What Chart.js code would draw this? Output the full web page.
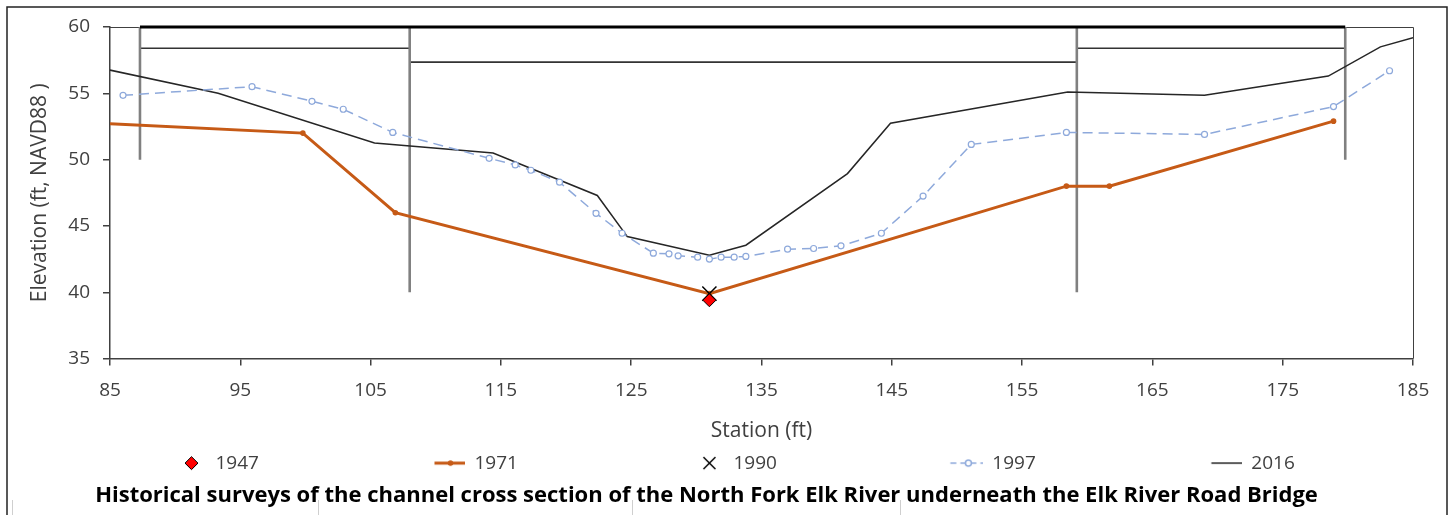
<!DOCTYPE html>
<html>
<head>
<meta charset="utf-8">
<script src="https://cdn.jsdelivr.net/npm/chart.js@4.4.0/dist/chart.umd.min.js"></script>
<style>
  html, body { margin: 0; padding: 0; background: #fff; }
</style>
</head>
<body>
<canvas id="xsChart" width="1450" height="515"></canvas>
<script>
// survey data, station (ft) / elevation (ft NAVD88)
const sta1947 = [131.0];
const elev1947 = [39.4];

const sta1971 = [85, 99.8, 106.9, 131.0, 158.4, 161.7, 178.9];
const elev1971 = [52.7, 52.0, 46.0, 39.9, 48.0, 48.0, 52.9];

const sta1990 = [131.0];
const elev1990 = [39.9];

const sta1997 = [86.0, 95.9, 100.5, 102.9, 106.7, 114.1, 116.1, 117.3, 119.5, 122.3,
  124.3, 126.7, 127.9, 128.6, 130.1, 131.0, 131.9, 132.9, 133.8, 137.0,
  139.0, 141.1, 144.2, 147.4, 151.1, 158.4, 169.0, 178.9, 183.2];
const elev1997 = [54.85, 55.5, 54.4, 53.8, 52.05, 50.1, 49.6, 49.2, 48.3, 45.95,
  44.45, 42.95, 42.9, 42.75, 42.65, 42.5, 42.65, 42.65, 42.7, 43.25,
  43.3, 43.5, 44.45, 47.25, 51.15, 52.05, 51.9, 54.0, 56.7];

const sta2016 = [85, 93.3, 105.3, 114.4, 122.4, 124.7, 131.0, 133.8, 141.6, 144.9,
  158.5, 169.0, 178.5, 182.5, 185];
const elev2016 = [56.75, 55.0, 51.25, 50.5, 47.3, 44.2, 42.8, 43.55, 48.95, 52.75,
  55.1, 54.85, 56.3, 58.5, 59.2];

// bridge outline
const pierStations = [87.3, 108.0, 159.2, 179.8];
const pierBottoms = [50, 40, 40, 50];
const deckElev = 60;
const lowChordElev = [58.4, 57.35, 58.4];

const xTicks = [85, 95, 105, 115, 125, 135, 145, 155, 165, 175, 185];
const yTicks = [35, 40, 45, 50, 55, 60];

const chartTitle = 'Historical surveys of the channel cross section of the North Fork Elk River underneath the Elk River Road Bridge';

const ORANGE = '#C65A16';
const BLUE = '#8EA9DB';
const DARK = '#262626';
const TXT = '#404040';
const FONT = "'Open Sans', sans-serif";

const toPts = (xs, ys) => xs.map((x, i) => ({x: x, y: ys[i]}));

let pierPts = [];
pierStations.forEach((s, i) => {
  pierPts.push({x: s, y: deckElev}, {x: s, y: pierBottoms[i]}, {x: s, y: null});
});
let chordPts = [];
lowChordElev.forEach((e, i) => {
  chordPts.push({x: pierStations[i], y: e}, {x: pierStations[i + 1], y: e}, {x: pierStations[i + 1], y: null});
});
const deckPts = [{x: pierStations[0], y: deckElev}, {x: pierStations[pierStations.length - 1], y: deckElev}];

// legend symbols (drawn at the right end of a wide box)
const BOXW = 206;
function makeIcon(draw) {
  const c = document.createElement('canvas');
  c.width = BOXW; c.height = 20;
  const g = c.getContext('2d');
  draw(g, BOXW - 14.5, 10);
  return c;
}
const legendIcons = {
  '1947': makeIcon((g, x, y) => {
    g.beginPath(); g.moveTo(x, y - 6.5); g.lineTo(x + 6.5, y); g.lineTo(x, y + 6.5); g.lineTo(x - 6.5, y); g.closePath();
    g.fillStyle = '#FF0000'; g.fill(); g.lineWidth = 1; g.strokeStyle = '#000'; g.stroke();
  }),
  '1971': makeIcon((g, x, y) => {
    g.strokeStyle = ORANGE; g.lineWidth = 3;
    g.beginPath(); g.moveTo(x - 16, y); g.lineTo(x + 16, y); g.stroke();
    g.fillStyle = ORANGE; g.beginPath(); g.arc(x, y, 2.8, 0, Math.PI * 2); g.fill();
  }),
  '1990': makeIcon((g, x, y) => {
    g.strokeStyle = '#000'; g.lineWidth = 1.5;
    g.beginPath(); g.moveTo(x - 6, y - 6); g.lineTo(x + 6, y + 6); g.moveTo(x + 6, y - 6); g.lineTo(x - 6, y + 6); g.stroke();
  }),
  '1997': makeIcon((g, x, y) => {
    g.strokeStyle = BLUE; g.lineWidth = 1.5; g.setLineDash([6, 4]);
    g.beginPath(); g.moveTo(x - 18, y); g.lineTo(x + 18, y); g.stroke();
    g.setLineDash([]); g.fillStyle = '#fff';
    g.beginPath(); g.arc(x, y, 3, 0, Math.PI * 2); g.fill(); g.stroke();
  }),
  '2016': makeIcon((g, x, y) => {
    g.strokeStyle = DARK; g.lineWidth = 1.5;
    g.beginPath(); g.moveTo(x - 16, y); g.lineTo(x + 16, y); g.stroke();
  })
};

const pagePlugin = {
  id: 'page',
  beforeDraw(chart) {
    const ctx = chart.ctx;
    ctx.save();
    ctx.fillStyle = '#fff';
    ctx.fillRect(0, 0, chart.width, chart.height);
    ctx.restore();
  },
  beforeDatasetsDraw(chart) {
    const {ctx, chartArea: a} = chart;
    ctx.save();
    ctx.strokeStyle = TXT;
    ctx.lineWidth = 1;
    ctx.beginPath();
    ctx.moveTo(a.left, a.top + 0.5);
    ctx.lineTo(a.right + 0.5, a.top + 0.5);
    ctx.lineTo(a.right + 0.5, a.bottom);
    ctx.stroke();
    ctx.restore();
  },
  afterDraw(chart) {
    const ctx = chart.ctx;
    ctx.save();
    ctx.strokeStyle = '#222';
    ctx.lineWidth = 1.5;
    ctx.beginPath();
    ctx.moveTo(7, chart.height + 2);
    ctx.lineTo(7, 7);
    ctx.lineTo(1447, 7);
    ctx.lineTo(1447, chart.height + 2);
    ctx.stroke();
    ctx.strokeStyle = '#cfcfcf';
    ctx.lineWidth = 1;
    [12.5, 318.5, 632.5, 900.5].forEach(x => {
      ctx.beginPath(); ctx.moveTo(x, 500); ctx.lineTo(x, chart.height); ctx.stroke();
    });
    ctx.restore();
  }
};

const ctx = document.getElementById('xsChart');
new Chart(ctx, {
  type: 'line',
  data: {
    datasets: [
      { label: '1947', data: toPts(sta1947, elev1947), showLine: false, order: 0,
        pointStyle: 'rectRot', pointRadius: 6.5, backgroundColor: '#FF0000', borderColor: '#000', pointBorderWidth: 1 },
      { label: '1971', data: toPts(sta1971, elev1971), order: 2,
        borderColor: ORANGE, backgroundColor: ORANGE, borderWidth: 3,
        pointRadius: sta1971.map((s, i) => i === 0 ? 0 : 2.8), pointBorderWidth: 0 },
      { label: '1990', data: toPts(sta1990, elev1990), showLine: false, order: 1,
        pointStyle: 'crossRot', pointRadius: 10, borderColor: '#000', pointBorderWidth: 1.5 },
      { label: '1997', data: toPts(sta1997, elev1997), order: 3,
        borderColor: BLUE, backgroundColor: '#fff', borderWidth: 1.5, borderDash: [10, 6],
        pointRadius: 3, pointBorderWidth: 1.2 },
      { label: '2016', data: toPts(sta2016, elev2016), order: 4,
        borderColor: DARK, borderWidth: 1.5, pointRadius: 0 },
      { label: 'piers', data: pierPts, order: 5, clip: false,
        borderColor: '#808080', borderWidth: 2.6, pointRadius: 0 },
      { label: 'lowchord', data: chordPts, order: 6, clip: false,
        borderColor: '#333', borderWidth: 1.6, pointRadius: 0 },
      { label: 'deck', data: deckPts, order: 4.5, clip: false,
        borderColor: '#000', borderWidth: 3, pointRadius: 0 }
    ]
  },
  options: {
    responsive: false,
    animation: false,
    devicePixelRatio: 1,
    spanGaps: false,
    layout: { padding: { top: 27, right: 37, bottom: 0, left: 0 } },
    elements: { line: { tension: 0 } },
    scales: {
      x: {
        type: 'linear',
        min: 85, max: 185,
        afterBuildTicks: s => { s.ticks = xTicks.map(v => ({value: v})); },
        afterFit: s => { s.height = 95; },
        grid: { drawOnChartArea: false, drawTicks: true, tickLength: 7, color: TXT, lineWidth: 1.5 },
        border: { display: true, color: TXT, width: 1.5 },
        ticks: { color: TXT, font: { family: FONT, size: 19 }, padding: 14, maxRotation: 0 },
        title: { display: true, text: 'Station (ft)', color: TXT, font: { family: FONT, size: 21 }, padding: { top: 0, bottom: 10 } }
      },
      y: {
        min: 35, max: 60,
        afterBuildTicks: s => { s.ticks = yTicks.map(v => ({value: v})); },
        afterFit: s => { s.width = 110; },
        grid: { drawOnChartArea: false, drawTicks: true, tickLength: 7, color: TXT, lineWidth: 1.5 },
        border: { display: true, color: TXT, width: 1.5 },
        ticks: { color: TXT, font: { family: FONT, size: 19 }, padding: 13 },
        title: { display: true, text: 'Elevation (ft, NAVD88 )', color: TXT, font: { family: FONT, size: 21 }, padding: { top: 27, bottom: 0 } }
      }
    },
    plugins: {
      tooltip: { enabled: false },
      legend: {
        position: 'bottom',
        align: 'start',
        labels: {
          usePointStyle: true,
          pointStyleWidth: BOXW,
          padding: 0,
          color: TXT,
          font: { family: FONT, size: 19 },
          generateLabels: chart => chart.data.datasets
            .map((ds, i) => ({ text: ds.label, pointStyle: legendIcons[ds.label], datasetIndex: i,
              fillStyle: '#fff', strokeStyle: '#fff', lineWidth: 0, hidden: false, fontColor: TXT }))
            .filter(item => item.pointStyle)
        }
      },
      title: {
        display: true,
        position: 'bottom',
        text: chartTitle,
        color: '#000',
        font: { family: FONT, size: 22, weight: 'bold' },
        padding: { top: 0, bottom: 6 }
      }
    }
  },
  plugins: [pagePlugin]
});
</script>
</body>
</html>
